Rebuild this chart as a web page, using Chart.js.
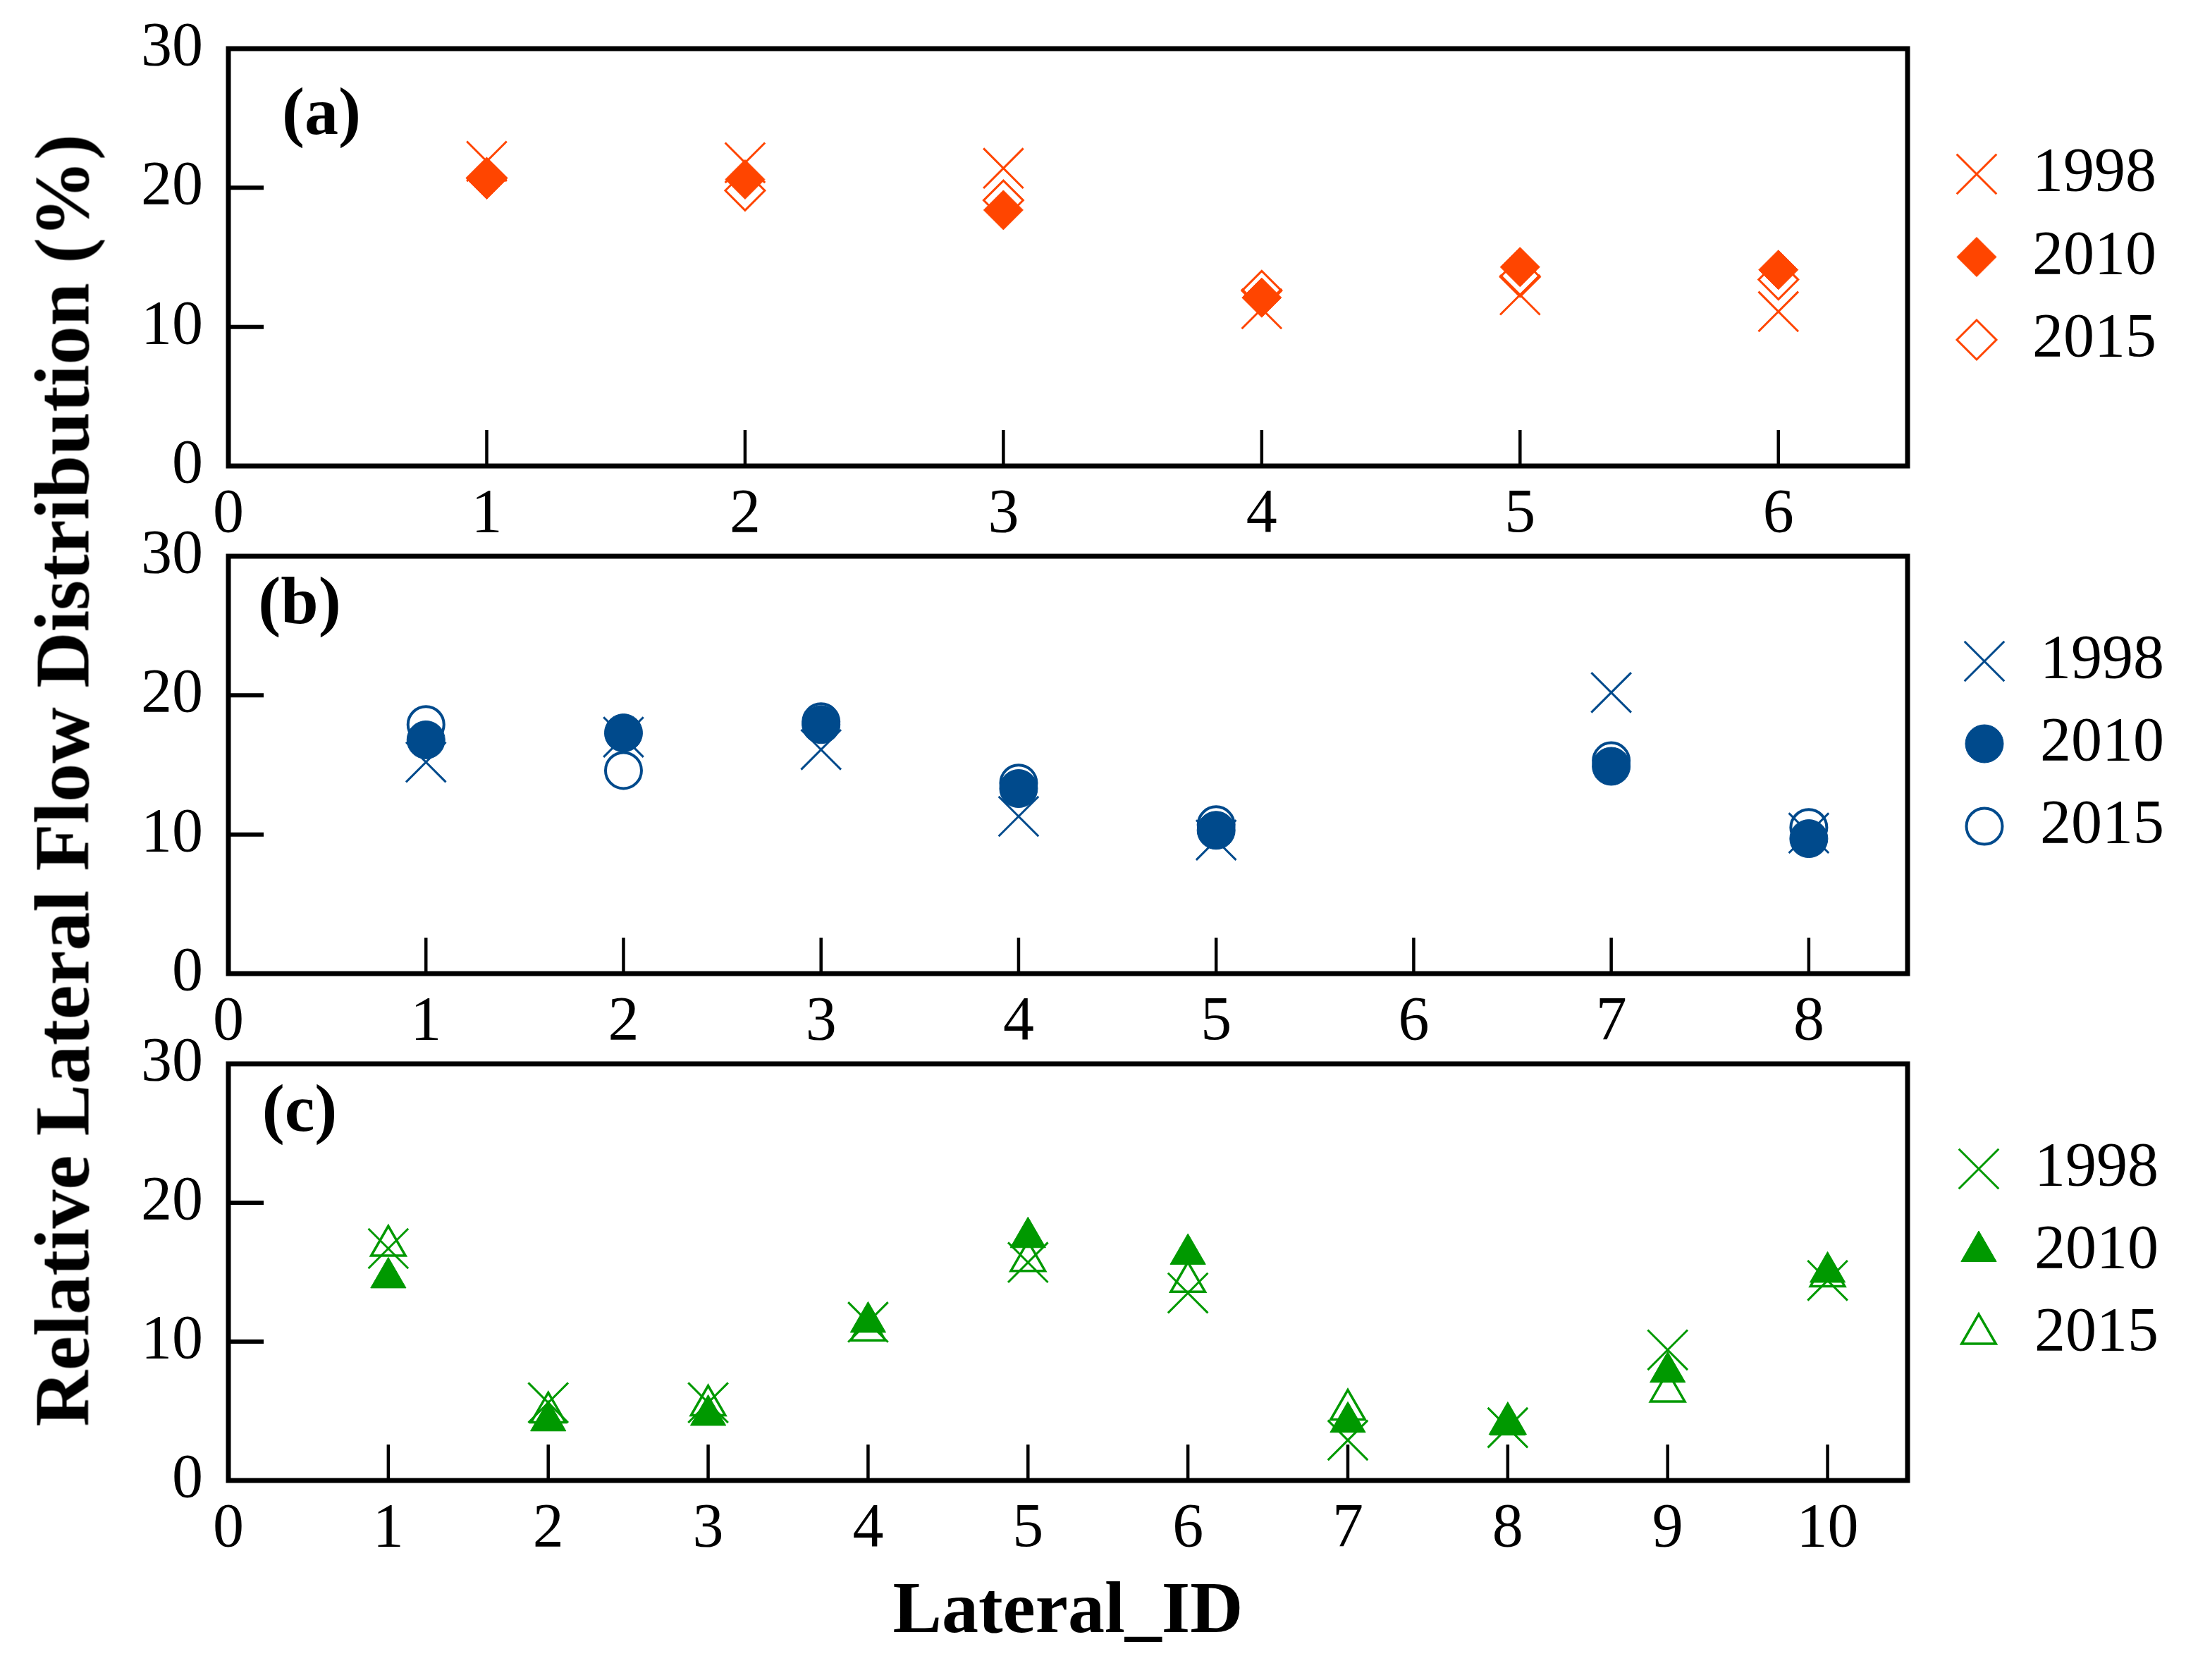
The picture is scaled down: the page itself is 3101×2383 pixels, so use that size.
<!DOCTYPE html>
<html>
<head>
<meta charset="utf-8">
<title>Relative Lateral Flow Distribution</title>
<script src="https://cdn.jsdelivr.net/npm/chart.js@4.4.1/dist/chart.umd.min.js"></script>
<style>
html, body { margin: 0; padding: 0; background: #fff; }
#page { position: relative; width: 3101px; height: 2383px; background: #fff; overflow: hidden; }
#page canvas { position: absolute; left: 0; }
#yTitle {
    position: absolute; left: 89px; top: 1107px;
    transform: translate(-50%, -50%) rotate(-90deg);
    white-space: nowrap; color: #000;
    font: bold 110px 'Liberation Serif', 'Times New Roman', serif;
}
</style>
</head>
<body>
<div id="page">
    <canvas id="chartA" width="3101" height="800" style="top:-20px"></canvas>
    <canvas id="chartB" width="3101" height="800" style="top:700px"></canvas>
    <canvas id="chartC" width="3101" height="963" style="top:1420px"></canvas>
    <div id="yTitle">Relative Lateral Flow Distribution (%)</div>
</div>
<script>
const FONT = "'Liberation Serif', 'Times New Roman', serif";

// tick labels
const yTicks = [0, 5, 10, 15, 20, 25, 30];
const xTicksA = [0, 1, 2, 3, 4, 5, 6];
const xTicksB = [0, 1, 2, 3, 4, 5, 6, 7, 8];
const xTicksC = [0, 1, 2, 3, 4, 5, 6, 7, 8, 9, 10];

// (a)
const idsA = [1, 2, 3, 4, 5, 6];
const a1998 = [21.9, 21.8, 21.4, 11.3, 12.3, 11.1];
const a2010 = [20.6, 20.6, 18.4, 12.1, 14.3, 14.1];
const a2015 = [20.7, 19.8, 19.1, 12.6, 13.6, 13.4];

// (b) - no lateral 6
const idsB = [1, 2, 3, 4, 5, 7, 8];
const b1998 = [15.2, 17.0, 16.1, 11.3, 9.6, 20.2, 10.1];
const b2010 = [16.8, 17.3, 17.9, 13.3, 10.3, 14.9, 9.7];
const b2015 = [17.9, 14.6, 18.1, 13.7, 10.7, 15.3, 10.5];

// (c)
const idsC = [1, 2, 3, 4, 5, 6, 7, 8, 9, 10];
const c1998 = [16.7, 5.6, 5.6, 11.4, 15.7, 13.5, 2.9, 3.8, 9.4, 14.4];
const c2010 = [14.6, 4.3, 4.7, 11.4, 17.5, 16.3, 4.2, 4.0, 7.8, 15.0];
const c2015 = [16.9, 4.9, 5.4, 10.8, 15.8, 14.3, 5.1, 4.1, 6.4, 14.7];

const colors = {
    a: '#ff4500',
    b: '#004a8c',
    c: '#009900'
};

function points(ids, vals) {
    return ids.map((id, i) => ({ x: id, y: vals[i] }));
}

function crossSet(data, color) {
    return {
        label: '1998', data: data, pointStyle: 'crossRot', pointRadius: 40,
        borderColor: color, backgroundColor: 'rgba(0,0,0,0)', borderWidth: 3, order: 2
    };
}

function filledSet(data, color, style, r) {
    return {
        label: '2010', data: data, pointStyle: style, pointRadius: r,
        borderColor: color, backgroundColor: color, borderWidth: 1, order: 0
    };
}

function openSet(data, color, style, r, w) {
    return {
        label: '2015', data: data, pointStyle: style, pointRadius: r,
        borderColor: color, backgroundColor: 'rgba(0,0,0,0)', borderWidth: w, order: 1
    };
}

// frame, inward ticks, panel letter and legend
const panelDecor = {
    id: 'panelDecor',
    beforeDatasetsDraw(chart) {
        const { ctx, chartArea: a, scales } = chart;
        ctx.save();
        ctx.strokeStyle = '#000';
        ctx.lineCap = 'butt';
        ctx.lineWidth = 6;
        scales.y.ticks.forEach(t => {
            const py = scales.y.getPixelForValue(t.value);
            const len = t.value % 10 === 0 ? 50 : 30;
            ctx.beginPath();
            ctx.moveTo(a.left, py);
            ctx.lineTo(a.left + len, py);
            ctx.stroke();
        });
        ctx.lineWidth = 4.5;
        scales.x.ticks.forEach(t => {
            const px = scales.x.getPixelForValue(t.value);
            ctx.beginPath();
            ctx.moveTo(px, a.bottom);
            ctx.lineTo(px, a.bottom - 51);
            ctx.stroke();
        });
        ctx.lineWidth = 7;
        ctx.strokeRect(a.left, a.top, a.right - a.left, a.bottom - a.top);
        ctx.restore();
    },
    afterDraw(chart, args, opts) {
        const { ctx, chartArea: a } = chart;
        ctx.save();
        ctx.fillStyle = '#000';
        ctx.font = 'bold 96px ' + FONT;
        ctx.textAlign = 'center';
        ctx.textBaseline = 'middle';
        ctx.fillText(opts.letter, a.left + opts.letterX, a.top + opts.letterY);

        chart.data.datasets.forEach((ds, i) => {
            const x = a.right + opts.legendX;
            const y = a.top + opts.legendY + i * opts.legendGap;
            ctx.save();
            ctx.fillStyle = ds.backgroundColor;
            ctx.strokeStyle = ds.borderColor;
            ctx.lineWidth = ds.borderWidth;
            Chart.helpers.drawPoint(ctx, {
                pointStyle: ds.pointStyle, radius: ds.pointRadius,
                borderWidth: ds.borderWidth, rotation: 0
            }, x, y);
            ctx.restore();
            ctx.fillStyle = '#000';
            ctx.font = '88px ' + FONT;
            ctx.textAlign = 'left';
            ctx.textBaseline = 'middle';
            ctx.fillText(ds.label, x + 79, y);
        });
        ctx.restore();
    }
};

function makePanel(id, datasets, xTicks, xMax, layoutTop, xAxisHeight, decor, xTitle) {
    const ctx = document.getElementById(id);
    return new Chart(ctx, {
        type: 'scatter',
        data: { datasets: datasets },
        plugins: [panelDecor],
        options: {
            responsive: false,
            animation: false,
            devicePixelRatio: 1,
            layout: { padding: { top: layoutTop, right: 395, left: 0, bottom: 0 } },
            plugins: {
                legend: { display: false },
                tooltip: { enabled: false },
                panelDecor: decor
            },
            scales: {
                x: {
                    type: 'linear',
                    min: 0,
                    max: xMax,
                    afterBuildTicks: (scale) => { scale.ticks = xTicks.map(v => ({ value: v })); },
                    afterFit: (scale) => { scale.height = xAxisHeight; },
                    grid: { display: false, drawTicks: false },
                    border: { display: false },
                    ticks: {
                        color: '#000',
                        padding: 17,
                        maxRotation: 0,
                        autoSkip: false,
                        font: { family: FONT, size: 88 }
                    },
                    title: xTitle ? {
                        display: true,
                        text: xTitle,
                        color: '#000',
                        padding: { top: 0, bottom: 32 },
                        font: { family: FONT, size: 104, weight: 'bold' }
                    } : { display: false }
                },
                y: {
                    type: 'linear',
                    min: 0,
                    max: 30,
                    afterBuildTicks: (scale) => { scale.ticks = yTicks.map(v => ({ value: v })); },
                    afterFit: (scale) => { scale.width = 324; },
                    grid: { display: false, drawTicks: false },
                    border: { display: false },
                    ticks: {
                        color: '#000',
                        padding: 36,
                        callback: (v) => (v % 10 === 0 ? String(v) : ''),
                        font: { family: FONT, size: 88 }
                    }
                }
            }
        }
    });
}

makePanel('chartA', [
    crossSet(points(idsA, a1998), colors.a),
    filledSet(points(idsA, a2010), colors.a, 'rectRot', 28),
    openSet(points(idsA, a2015), colors.a, 'rectRot', 28, 3)
], xTicksA, 6.5, 89, 119,
{ letter: '(a)', letterX: 132, letterY: 96, legendX: 98, legendY: 178, legendGap: 117.5 });

makePanel('chartB', [
    crossSet(points(idsB, b1998), colors.b),
    filledSet(points(idsB, b2010), colors.b, 'circle', 27),
    openSet(points(idsB, b2015), colors.b, 'circle', 25.5, 4)
], xTicksB, 8.5, 89, 119,
{ letter: '(b)', letterX: 101, letterY: 70, legendX: 109, legendY: 149, legendGap: 117 });

makePanel('chartC', [
    crossSet(points(idsC, c1998), colors.c),
    filledSet(points(idsC, c2010), colors.c, 'triangle', 29),
    openSet(points(idsC, c2015), colors.c, 'triangle', 28, 3.5)
], xTicksC, 10.5, 89, 283,
{ letter: '(c)', letterX: 101, letterY: 70, legendX: 101, legendY: 149, legendGap: 117 },
'Lateral_ID');
</script>
</body>
</html>
